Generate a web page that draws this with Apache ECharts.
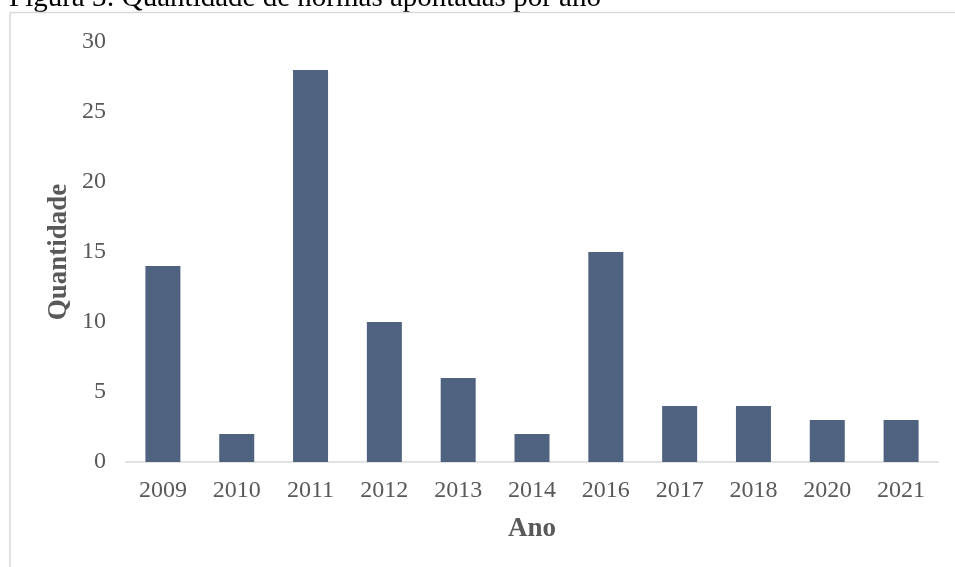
<!DOCTYPE html>
<html>
<head>
<meta charset="utf-8">
<script src="https://cdn.jsdelivr.net/npm/echarts@6/dist/echarts.min.js"></script>
<style>
  body { margin: 0; background: #fff; }
  #chart { width: 955px; height: 567px; }
</style>
</head>
<body>
<div id="chart"></div>
<script>
  const anos = ['2009', '2010', '2011', '2012', '2013', '2014', '2016', '2017', '2018', '2020', '2021']
  const quantidade = [14, 2, 28, 10, 6, 2, 15, 4, 4, 3, 3]
  const titulo = 'Figura 3: Quantidade de normas apontadas por ano'

  const serif = '"Liberation Serif", "Times New Roman", serif'
  const cinza = '#595959'

  const chart = echarts.init(document.getElementById('chart'))
  chart.setOption({
    animation: false,
    textStyle: { fontFamily: serif },
    graphic: [
      {
        type: 'text',
        left: 9,
        top: -16,
        style: { text: titulo, font: '29px ' + serif, fill: '#000' }
      },
      // moldura (só topo e esquerda aparecem)
      {
        type: 'line',
        shape: { x1: 10, y1: 12.5, x2: 955, y2: 12.5 },
        style: { stroke: '#d9d9d9', lineWidth: 1.5 }
      },
      {
        type: 'line',
        shape: { x1: 10, y1: 12.5, x2: 10, y2: 567 },
        style: { stroke: '#d9d9d9', lineWidth: 1.5 }
      }
    ],
    grid: {
      left: 126,
      right: 17,
      top: 42,
      bottom: 105
    },
    xAxis: {
      type: 'category',
      data: anos,
      name: 'Ano',
      nameLocation: 'middle',
      nameGap: 54,
      nameMoveOverlap: false,
      nameTextStyle: { color: cinza, fontSize: 27, fontWeight: 'bold', fontFamily: serif },
      axisLine: { lineStyle: { color: '#d9d9d9', width: 1.5 } },
      axisTick: { show: false },
      axisLabel: { color: cinza, fontSize: 24, margin: 17, fontFamily: serif }
    },
    yAxis: {
      type: 'value',
      min: 0,
      max: 30,
      interval: 5,
      name: 'Quantidade',
      nameLocation: 'middle',
      nameGap: 53,
      nameMoveOverlap: false,
      nameTextStyle: { color: cinza, fontSize: 27, fontWeight: 'bold', fontFamily: serif },
      axisLine: { show: false },
      axisTick: { show: false },
      splitLine: { show: false },
      axisLabel: { color: cinza, fontSize: 24, margin: 20, fontFamily: serif }
    },
    series: [{
      type: 'bar',
      data: quantidade,
      barWidth: 35,
      itemStyle: { color: '#4f6380' }
    }]
  })
</script>
</body>
</html>
